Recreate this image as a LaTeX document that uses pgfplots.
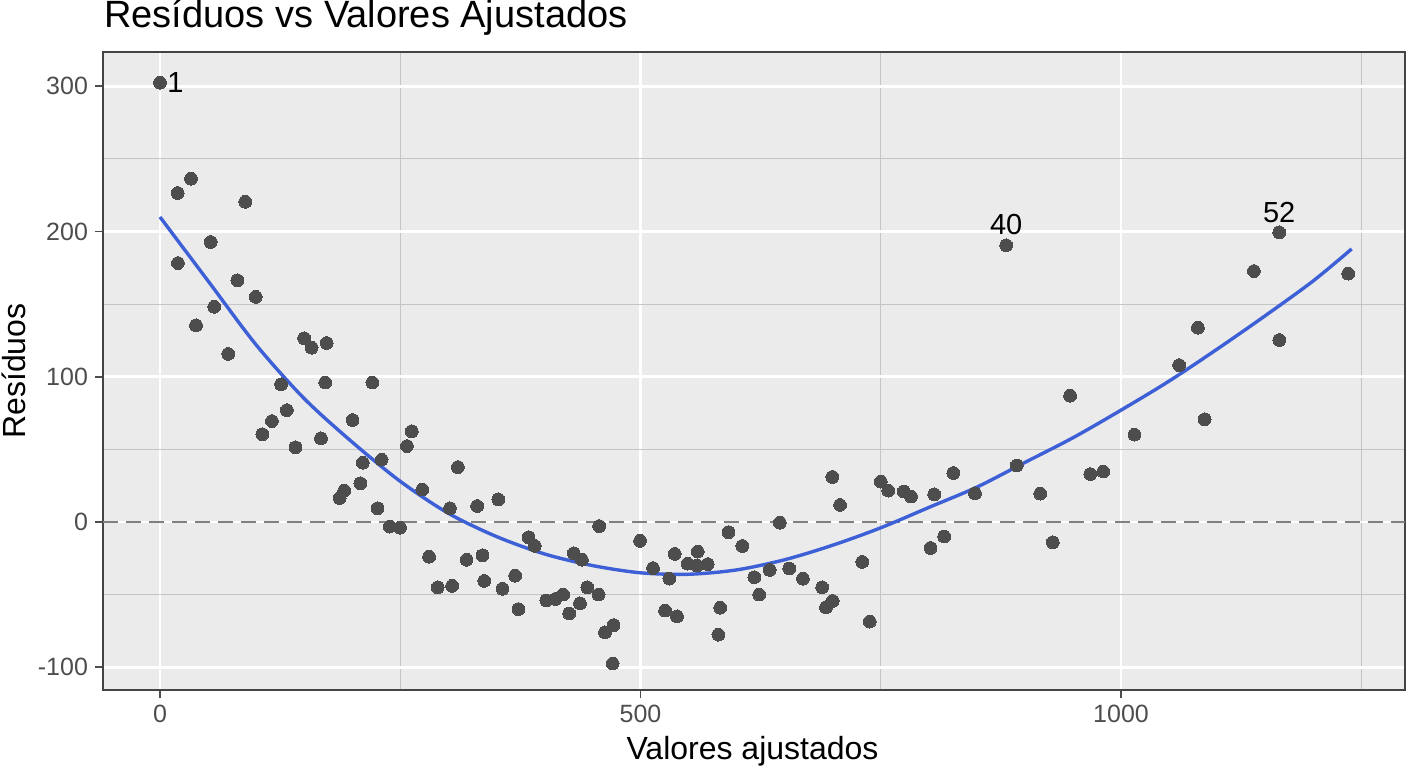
\documentclass[border=0pt]{standalone}
\usepackage{fontspec}
\setmainfont{Liberation Sans}
\usepackage{pgfplots}
\pgfplotsset{compat=1.18}
\definecolor{panelbg}{HTML}{EBEBEB}
\definecolor{minorgrid}{HTML}{C4C4C4}
\definecolor{ptcol}{HTML}{4D4D4D}
\definecolor{tickcol}{HTML}{4D4D4D}
\definecolor{framecol}{HTML}{444444}
\definecolor{loesscol}{RGB}{62,96,214}
\definecolor{zerocol}{HTML}{808080}
\begin{document}
\begin{tikzpicture}
\useasboundingbox (-51.5pt,-39pt) rectangle (652.5pt,345pt);
\begin{axis}[
 at={(0pt,0pt)}, anchor=south west,
 scale only axis, width=651pt, height=319pt,
 xmin=-59.3, xmax=1295.5, ymin=-115.7, ymax=323.6,
 axis background/.style={fill=panelbg},
 xtick={0,500,1000}, xticklabels={0,500,1000},
 ytick={-100,0,100,200,300}, yticklabels={-100,0,100,200,300},
 minor xtick={250,750,1250}, minor ytick={-50,50,150,250},
 grid=both,
 major grid style={white, line width=1.4pt},
 minor grid style={minorgrid, line width=0.6pt},
 tick align=outside, xtick pos=bottom, ytick pos=left,
 major tick length=4pt, minor tick length=0pt,
 tick style={tickcol, line width=0.8pt},
 axis line style={framecol, line width=0.8pt},
 ticklabel style={font=\fontsize{12.5}{14}\selectfont, text=tickcol},
]
\addplot[zerocol, line width=1.4pt, dash pattern=on 7.5pt off 4pt, forget plot] coordinates {(-59.3,0) (1295.5,0)};
\addplot[only marks, mark=*, mark size=3.2pt, color=ptcol, mark options={draw=ptcol, fill=ptcol, line width=0pt}] table {
x y
0 302.5
18.4 226.5
32.3 236.4
18.7 178.3
37.5 135.4
52.7 192.8
56.5 148.2
71 115.7
80.5 166.4
88.8 220.5
99.6 155
106.5 60.4
116.5 69.5
126 94.8
132 77
141 51.4
150 126.5
157.8 120
167.5 57.6
172 96
173.4 123.2
187 16.5
191.8 21.6
200.4 70.2
208.5 26.6
211 40.8
221 96
226.4 9.4
230.6 42.9
239 -3.2
249.7 -3.9
257 52.3
262 62.4
273 22.3
280 -23.9
289 -45
301.7 9.4
304 -44
310 37.8
319 -26
330 11
335.6 -23
337.4 -40.6
352 15.6
356.4 -46
369.6 -37
373 -60
383.5 -10.5
390 -16.5
402 -54
411.5 -53
419.5 -50
425.8 -63
430.6 -21.6
439 -26
437 -56
444.6 -45
456.4 -50
457 -2.8
463 -76
472 -71
471 -97.5
499.5 -13
513 -31.7
530 -39
525.6 -61
535.6 -22
538 -65
549 -28.7
558.8 -30
559.5 -20.4
570 -29
583 -59
581 -77.6
591.6 -7
606 -16.5
618.5 -38
623.5 -50
634.4 -33
645 -0.5
654.8 -32
669 -39
689 -45
700 -54.4
693 -58.7
699.6 31
707.6 11.7
730.7 -27.5
738.5 -68.6
750 27.8
757.8 21.6
774 21
781.5 17.5
801.8 -17.9
805.6 19
816 -10
825.5 33.7
848 19.7
880.5 190.5
891.5 38.9
916 19.5
929 -14
947 87
968 33
981.5 34.7
1014 60.1
1060.5 108
1080 133.8
1087 70.7
1138.3 172.8
1164.6 199.4
1164.6 125.3
1236.4 171
};
\addplot[loesscol, line width=1.7pt, smooth] coordinates {
(0,210) (50,166) (100,122) (150,85) (200,55) (250,28) (300,6) (350,-10)
(400,-22) (450,-30) (500,-35) (550,-36) (600,-33) (650,-26) (700,-16)
(750,-4) (800,10) (850,24) (900,41) (950,58) (1000,77) (1050,97)
(1100,119) (1150,142) (1200,166) (1240,188)
};
\node[anchor=west, inner sep=0pt, xshift=3.5pt, font=\fontsize{14.5}{16}\selectfont] at (axis cs:0,302.5) {1};
\node[anchor=south, inner sep=0pt, yshift=5pt, font=\fontsize{14.5}{16}\selectfont] at (axis cs:880.5,190.5) {40};
\node[anchor=south, inner sep=0pt, yshift=4.5pt, font=\fontsize{14.5}{16}\selectfont] at (axis cs:1164.6,199.4) {52};
\end{axis}
\node[anchor=base west, inner sep=0pt, font=\fontsize{19}{22}\selectfont] at (0.5pt,331.5pt) {Resíduos vs Valores Ajustados};
\node[anchor=base, inner sep=0pt, font=\fontsize{16}{18}\selectfont] at (324.75pt,-34.5pt) {Valores ajustados};
\node[anchor=base, inner sep=0pt, rotate=90, font=\fontsize{16}{18}\selectfont] at (-38.5pt,159.5pt) {Resíduos};
\end{tikzpicture}
\end{document}
